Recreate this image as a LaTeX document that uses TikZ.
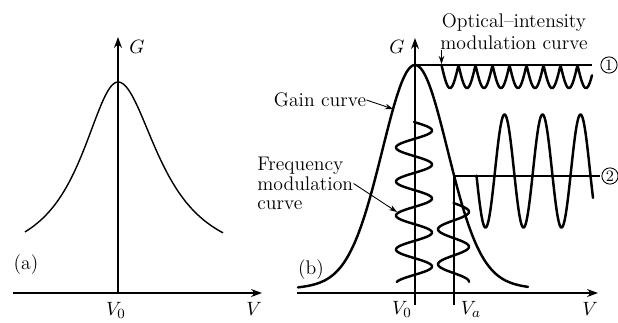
\documentclass[tikz,border=0pt]{standalone}
\usepackage{amsmath,amssymb}
\usepackage{xcolor}
\usepackage{tikz}
\usetikzlibrary{arrows.meta,positioning}

\begin{document}
\begin{tikzpicture}[x=0.02cm, y=-0.02cm,
axis/.style={-{Stealth[length=2.2mm, width=1.6mm]}, line width=0.8pt},
guide/.style={line width=0.8pt},
wave/.style={line width=1.4pt, line join=round, line cap=round},
pointer/.style={-{Stealth[length=1.6mm, width=1.1mm]}, line width=0.5pt},
lbl/.style={font=\fontsize{11.2}{11}\selectfont, inner sep=0pt},
num/.style={circle, draw, line width=0.5pt, inner sep=0.6pt, font=\fontsize{9}{9}\selectfont}
]
\useasboundingbox (0,0) rectangle (618,322);

% Panel (a)
\coordinate (a0) at (118,293);
\coordinate (aL) at (13,293);
\coordinate (aR) at (262,293);
\coordinate (aT) at (118,37);
\draw[axis] (aL) -- (aR);
\draw[axis] (a0) -- (aT);
\draw[guide] plot[domain=-93:105, samples=160] ({118+\x},{267-185/(1+(\x/(47.5+2.5*sign(\x)))^2)});
\node[lbl] (Ga) at (137,47) {$G$};
\node[lbl] (V0a) at (116,310) {$V_0$};
\node[lbl] (Va) at (254,309) {$V$};
\node[lbl] (tagA) at (26,265) {(a)};

% Panel (b): axes and guide lines
\coordinate (bL) at (297,293);
\coordinate (bR) at (598,293);
\coordinate (bB) at (415,305);
\coordinate (bT) at (415,38);
\coordinate (pk) at (415,65);
\coordinate (end1) at (592,65);
\coordinate (cr) at (454,176);
\coordinate (end2) at (600,176);
\coordinate (vaB) at (454,305);
\draw[axis] (bL) -- (bR);
\draw[axis] (bB) -- (bT);
\draw[guide] (pk) -- (end1);
\draw[guide] (cr) -- (end2);
\draw[guide] (cr) -- (vaB);

% Gain curve
\draw[wave] plot[domain=-117:113, samples=160] ({415+\x},{293-228*(0.85*exp(-(\x)^2/2178)+0.15/(1+(\x/50)^2))});

% Frequency modulation curves
\draw[wave] plot[domain=122:282, samples=220] ({414+18*sin((\x-122)/34*360)},\x);
\draw[wave] plot[domain=203:282, samples=160] ({453.5+15.5*sin((\x-203)/35*360)},\x);

% Optical-intensity modulation curves
\draw[wave] plot[domain=441.5:592, samples=400] (\x,{65+23*abs(sin((\x-441.5)/17*180))});
\draw[wave] plot[domain=476.5:593, samples=300] (\x,{171+56.5*sin((\x-476)/38*360)});

% Labels
\node[lbl] (Gb) at (397,47) {$G$};
\node[lbl] (V0b) at (402,309) {$V_0$};
\node[lbl] (Vab) at (471,309) {$V_a$};
\node[lbl] (Vb) at (590,309) {$V$};
\node[lbl] (tagB) at (311,270) {(b)};
\node[num] (n1) at (609,65) {1};
\node[num] (n2) at (610,176) {2};

\node[lbl, align=center, font=\fontsize{11.2}{12.5}\selectfont] (opt) at (514,32) {Optical--intensity\\modulation curve};
\coordinate (optpt) at (441.5,64);
\draw[pointer] (optpt |- opt.south) -- (optpt);

\node[lbl] (gain) at (320,100) {Gain curve};
\coordinate (gainpt) at (393,109);
\draw[pointer] (gain.east) -- (gainpt);

\node[lbl, align=left, anchor=north west] (fm) at (257,157) {Frequency\\modulation\\curve};
\coordinate (fmpt) at (397,212);
\draw[pointer] (fm.east) -- (fmpt);
\end{tikzpicture}
\end{document}
